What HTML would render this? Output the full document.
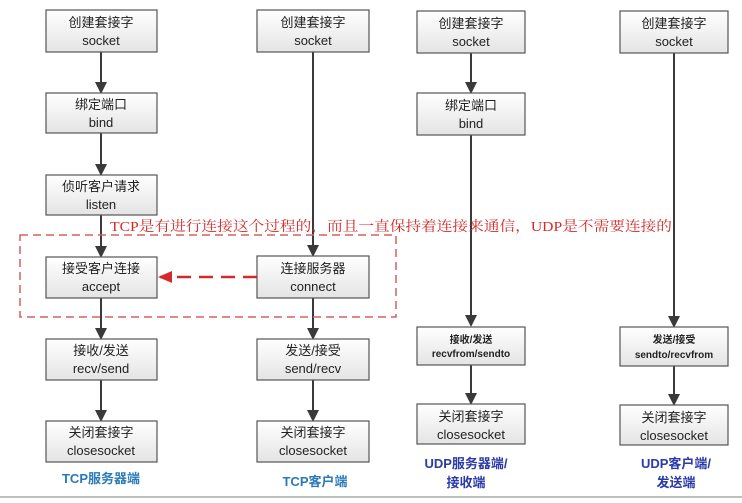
<!DOCTYPE html>
<html><head><meta charset="utf-8"><style>
body{margin:0;background:#fff;}
svg text{font-family:"Liberation Sans","Noto Sans CJK SC",sans-serif;}
</style></head><body>
<svg width="742" height="498" viewBox="0 0 742 498" xmlns="http://www.w3.org/2000/svg">
<defs>
<linearGradient id="g" x1="0" y1="0" x2="0" y2="1"><stop offset="0" stop-color="#ffffff"/><stop offset="1" stop-color="#e4e4e4"/></linearGradient>
<marker id="a" markerWidth="12" markerHeight="12" refX="10" refY="6" orient="auto" markerUnits="userSpaceOnUse"><path d="M0,0 L12,6 L0,12 z" fill="#3a3a3a"/></marker>
<marker id="r" markerWidth="14" markerHeight="12" refX="12" refY="6" orient="auto" markerUnits="userSpaceOnUse"><path d="M0,0 L14,6 L0,12 z" fill="#d42a2a"/></marker>
</defs>
<g stroke="#3a3a3a" stroke-width="2" marker-end="url(#a)">
<line x1="101" y1="52" x2="101" y2="92"/>
<line x1="101" y1="133" x2="101" y2="174"/>
<line x1="101" y1="215" x2="101" y2="256"/>
<line x1="101" y1="298" x2="101" y2="338"/>
<line x1="101" y1="380" x2="101" y2="420"/>
<line x1="313" y1="52" x2="313" y2="255"/>
<line x1="313" y1="298" x2="313" y2="338"/>
<line x1="313" y1="380" x2="313" y2="420"/>
<line x1="471" y1="53" x2="471" y2="92"/>
<line x1="471" y1="135" x2="471" y2="325"/>
<line x1="471" y1="365" x2="471" y2="403"/>
<line x1="674" y1="53" x2="674" y2="326"/>
<line x1="674" y1="366" x2="674" y2="404"/>
</g>
<g fill="url(#g)" stroke="#555" stroke-width="1.2">
<rect x="46" y="10" width="111" height="42"/>
<rect x="46" y="93" width="111" height="40"/>
<rect x="46" y="175" width="111" height="40"/>
<rect x="46" y="257" width="111" height="41"/>
<rect x="46" y="339" width="111" height="41"/>
<rect x="46" y="421" width="111" height="41"/>
<rect x="257" y="10" width="112" height="42"/>
<rect x="257" y="256" width="112" height="42"/>
<rect x="257" y="339" width="112" height="41"/>
<rect x="257" y="421" width="112" height="41"/>
<rect x="417" y="11" width="108" height="42"/>
<rect x="417" y="93" width="108" height="42"/>
<rect x="417" y="327" width="108" height="38"/>
<rect x="417" y="404" width="108" height="40"/>
<rect x="620" y="11" width="108" height="42"/>
<rect x="620" y="327" width="108" height="39"/>
<rect x="620" y="405" width="108" height="40"/>
</g>
<rect x="20" y="235" width="376" height="82" fill="none" stroke="#d46060" stroke-width="1.5" stroke-dasharray="8,5"/>
<line x1="257" y1="277" x2="160" y2="277" stroke="#d42a2a" stroke-width="2.5" stroke-dasharray="14,8" marker-end="url(#r)"/>
<g font-size="13" fill="#222" text-anchor="middle">
<text x="101" y="27">创建套接字</text><text x="101" y="45">socket</text>
<text x="101" y="109">绑定端口</text><text x="101" y="127">bind</text>
<text x="101" y="191">侦听客户请求</text><text x="101" y="209">listen</text>
<text x="101" y="273">接受客户连接</text><text x="101" y="291">accept</text>
<text x="101" y="355">接收/发送</text><text x="101" y="373">recv/send</text>
<text x="101" y="437">关闭套接字</text><text x="101" y="455">closesocket</text>
<text x="313" y="27">创建套接字</text><text x="313" y="45">socket</text>
<text x="313" y="273">连接服务器</text><text x="313" y="291">connect</text>
<text x="313" y="355">发送/接受</text><text x="313" y="373">send/recv</text>
<text x="313" y="437">关闭套接字</text><text x="313" y="455">closesocket</text>
<text x="471" y="28">创建套接字</text><text x="471" y="46">socket</text>
<text x="471" y="110">绑定端口</text><text x="471" y="128">bind</text>
<text x="471" y="421">关闭套接字</text><text x="471" y="439">closesocket</text>
<text x="674" y="28">创建套接字</text><text x="674" y="46">socket</text>
<text x="674" y="422">关闭套接字</text><text x="674" y="440">closesocket</text>
</g>
<g font-size="10" fill="#222" text-anchor="middle" font-weight="bold">
<text x="471" y="343">接收/发送</text><text x="471" y="357">recvfrom/sendto</text>
<text x="674" y="343">发送/接受</text><text x="674" y="358">sendto/recvfrom</text>
</g>
<text x="110" y="231" font-size="14" fill="#d42a2a" textLength="562" lengthAdjust="spacingAndGlyphs" style="font-family:'Liberation Serif','Noto Serif CJK SC',serif">TCP是有进行连接这个过程的，而且一直保持着连接来通信，UDP是不需要连接的</text>
<g font-size="13" font-weight="bold" text-anchor="middle">
<text x="101" y="483" fill="#2a7ab8">TCP服务器端</text>
<text x="315" y="486" fill="#2a7ab8">TCP客户端</text>
<text x="466" y="468" fill="#2a3aa8">UDP服务器端/</text>
<text x="466" y="487" fill="#2a3aa8">接收端</text>
<text x="676" y="468" fill="#2a3aa8">UDP客户端/</text>
<text x="676" y="487" fill="#2a3aa8">发送端</text>
</g>
<line x1="0" y1="497" x2="742" y2="497" stroke="#aaa" stroke-width="1.5"/>
</svg>
</body></html>
